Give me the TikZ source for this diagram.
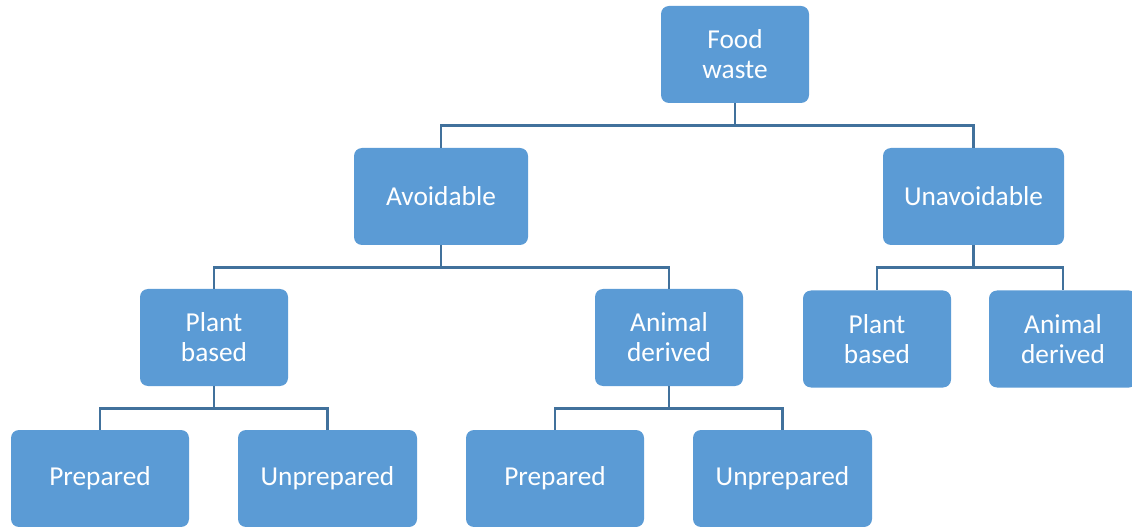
\documentclass[tikz,border=0pt]{standalone}
\usepackage{fontspec}
\setmainfont{Carlito}
\usetikzlibrary{positioning}
\definecolor{boxblue}{HTML}{5B9BD5}
\definecolor{lineblue}{HTML}{41719C}

\begin{document}
\begin{tikzpicture}[x=0.75pt, y=-0.75pt,
    box/.style={fill=boxblue, text=white, rounded corners=6pt, align=center,
                minimum width=111pt, minimum height=72.75pt, inner sep=0pt,
                font=\fontsize{20.5}{22.5}\selectfont},
    link/.style={draw=lineblue, line width=2pt}]
    \useasboundingbox (0,0) rectangle (1132,527);

    \node[box] (food) at (735,54.5) {Food\\waste};

    \node[box, minimum width=130.5pt] (avoid) at (441,196.5) {Avoidable};
    \node[box, minimum width=135.75pt] (unavoid) at (973.5,196.5) {Unavoidable};

    \node[box] (plantA) at (214,337.5) {Plant\\based};
    \node[box] (animalA) at (669,337.5) {Animal\\derived};
    \node[box] (plantU) at (877,339) {Plant\\based};
    \node[box] (animalU) at (1063,339) {Animal\\derived};

    \node[box, minimum width=133.5pt] (prepP) at (100,478.5) {Prepared};
    \node[box, minimum width=134.25pt] (unprepP) at (327.5,478.5) {Unprepared};
    \node[box, minimum width=133.5pt] (prepA) at (555,478.5) {Prepared};
    \node[box, minimum width=134.25pt] (unprepA) at (782.5,478.5) {Unprepared};

    % tree links
    \draw[link] (food.south) -- ++(0,22) -| (avoid.north);
    \draw[link] (food.south) -- ++(0,22) -| (unavoid.north);

    \draw[link] (avoid.south) -- ++(0,22) -| (plantA.north);
    \draw[link] (avoid.south) -- ++(0,22) -| (animalA.north);
    \draw[link] (unavoid.south) -- ++(0,22) -| (plantU.north);
    \draw[link] (unavoid.south) -- ++(0,22) -| (animalU.north);

    \draw[link] (plantA.south) -- ++(0,22) -| (prepP.north);
    \draw[link] (plantA.south) -- ++(0,22) -| (unprepP.north);
    \draw[link] (animalA.south) -- ++(0,22) -| (prepA.north);
    \draw[link] (animalA.south) -- ++(0,22) -| (unprepA.north);
\end{tikzpicture}
\end{document}
